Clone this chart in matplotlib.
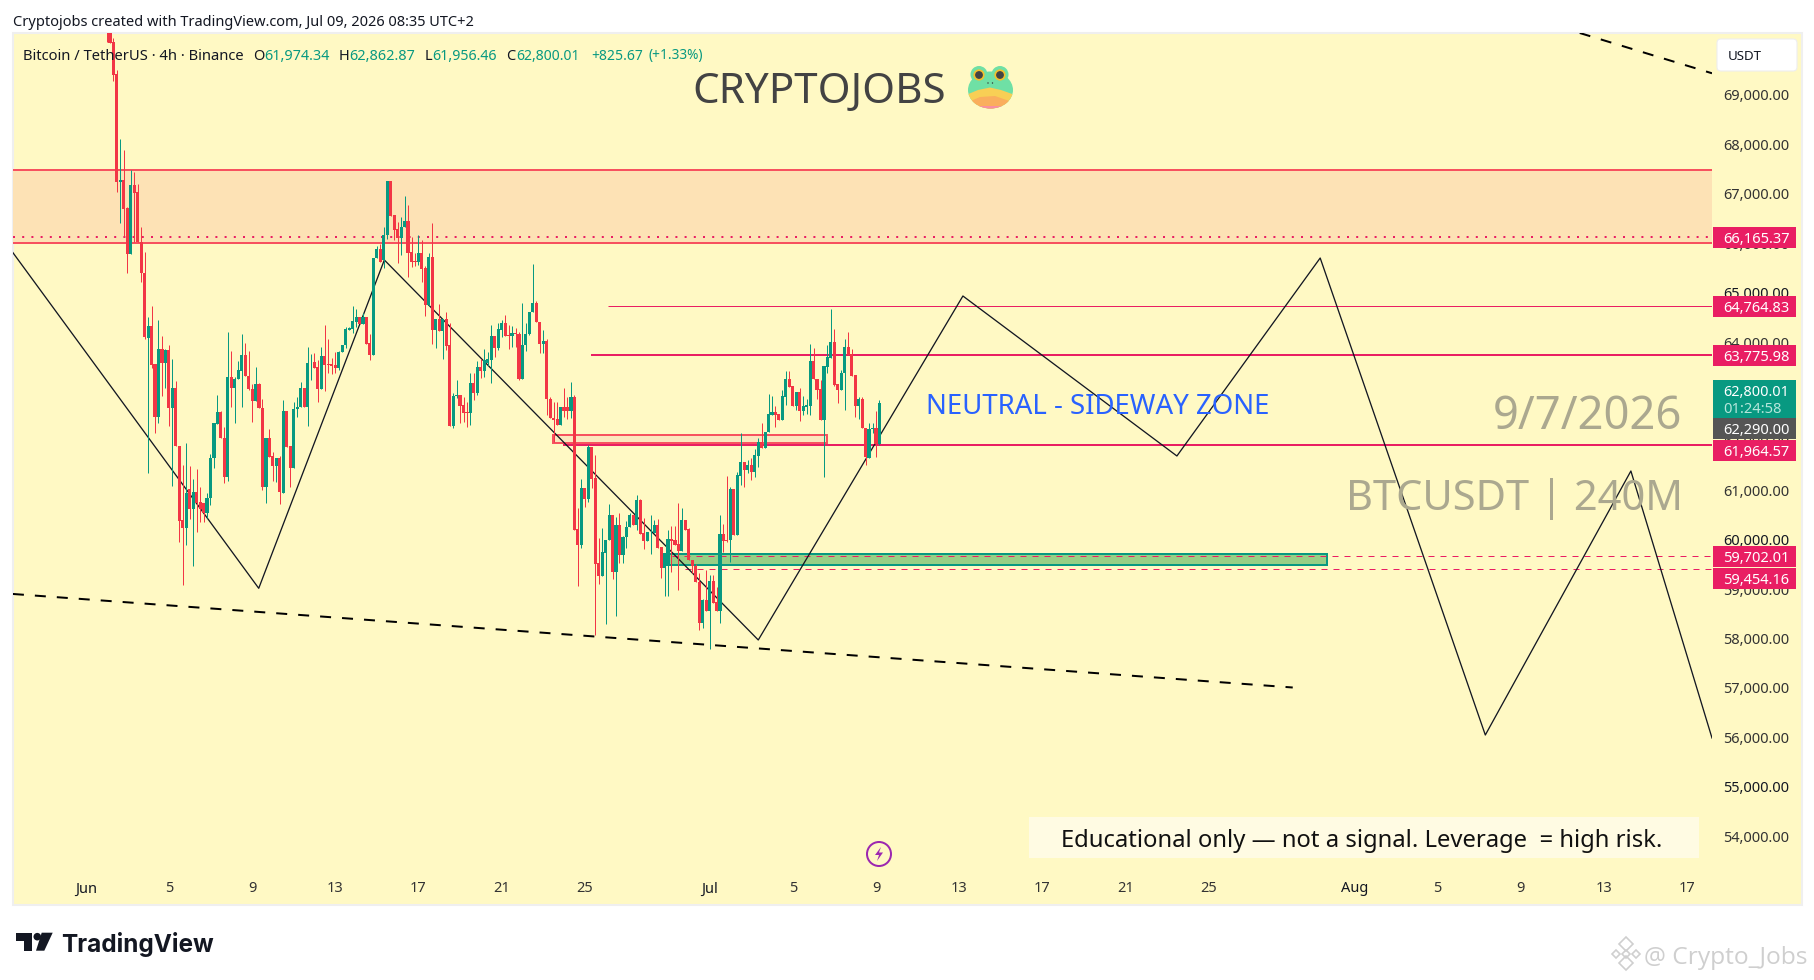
import matplotlib
matplotlib.use("Agg")
import matplotlib.pyplot as plt
from matplotlib.patches import Rectangle, Circle, Ellipse, Polygon, FancyBboxPatch

plt.rcParams['font.family'] = ['Noto Sans', 'DejaVu Sans']

# ---------- data ----------
first_candle = 6          # index in 4h candles counted from Jun 1
candles_per_day = 6
open_px = [
 70800,70500,70120,69465,67280,67320,66746,65822,67218,67083,
 66071,65444,64127,64363,63594,62528,63898,63621,63878,62710,
 63101,61941,60435,60280,61056,60671,60995,60806,60786,60584,
 60874,61684,62379,62622,62089,61313,63324,63115,63284,63459,
 63777,63358,63081,62852,63183,62696,61110,62096,61731,61535,
 61684,60989,62642,61934,61495,62676,62717,63101,62730,63608,
 63628,63540,63088,63756,63594,63588,63567,63506,63830,63979,
 64283,64296,64451,64553,64404,64553,64013,63776,65734,65916,
 65700,66206,67300,66611,66328,66153,66362,66490,65856,65680,
 65667,65843,65532,64790,65762,64284,64507,64270,64507,63980,
 62348,62948,62968,62766,62624,62611,63204,63016,63528,63461,
 63622,63677,64163,63913,64284,64433,64183,64169,64223,64203,
 63292,63974,64196,64642,64824,64453,63999,64061,62881,62496,
 62476,62361,62732,62725,62651,62921,60256,59932,61086,60863,
 61922,61281,59561,59305,59777,60033,60539,59392,60337,59736,
 60087,60290,60539,60337,60843,60168,60020,60195,60168,60337,
 59892,59473,59527,60047,60033,59952,59811,60438,60249,59628,
 59514,59190,58360,58819,58596,59203,58785,58603,60155,60034,
 60034,61066,60135,61336,61606,61451,61552,61417,61741,62024,
 61903,62213,62571,62625,62584,62463,62935,63293,63151,62746,
 63036,62645,62733,62746,63657,63286,63083,62463,63542,63711,
 64042,63185,63070,63407,63933,63799,63373,62753,62888,62294,
 61700,62274,62301,61974]
high_px = [
 71000,70800,70200,69546,68143,67927,66780,67522,67488,67239,
 66361,65869,64553,64769,63600,64485,64161,63898,63979,63695,
 63250,61941,61549,61988,61536,61258,61461,61110,60786,60989,
 61772,62406,62966,62642,62325,64235,63857,63337,63655,64195,
 64026,63857,63189,63527,63203,62885,62096,62271,61819,61684,
 61731,62865,62642,61934,62831,62919,63236,63101,63945,63797,
 63810,63675,63945,64384,64094,63709,63844,63864,63979,64350,
 64350,64769,64700,64553,64620,64553,64195,65747,65983,66024,
 66375,67300,67300,66611,66477,66578,66996,66814,66173,65836,
 66207,66105,65580,65849,66443,64507,64804,64507,64642,64419,
 63002,63272,62968,62921,62833,63407,63407,63657,63690,63900,
 63845,64385,64163,64419,64487,64588,64385,64365,64318,64250,
 64824,64419,64655,65620,64871,64453,64284,64095,62921,62834,
 62834,62732,63103,62921,63225,62970,60674,61268,61086,61956,
 61922,61754,60067,60269,60033,60762,60539,60505,60573,60114,
 60418,60573,60539,60944,60857,60472,60195,60539,60438,60452,
 59892,59750,60236,60317,60317,60775,60674,60438,60269,59628,
 59547,59358,58832,59426,59325,59325,59089,60540,60351,61329,
 61113,61066,61417,62193,61606,61653,61687,61869,62092,62395,
 62213,62989,62949,62746,62584,63070,63454,63454,63151,63036,
 63104,62949,62881,63994,63913,63286,63272,63549,63981,64710,
 64298,63185,63475,64095,64237,63893,63373,62922,62935,62294,
 62395,62395,62645,62863]
low_px = [
 70120,70100,69330,67083,66443,66186,65430,65822,66070,66071,
 65262,64100,61393,63506,62204,62406,62946,63115,62339,61124,
 61941,59996,59124,59929,60449,59511,60199,60402,60402,60469,
 60739,61495,62379,62089,61191,61232,62730,62406,63284,62730,
 63358,63068,62426,62845,62696,61043,60786,61718,61225,61212,
 60759,60989,61920,61110,61495,62528,62717,62730,62339,63270,
 63520,62831,63088,63047,63405,63392,63405,63473,63830,63912,
 64283,64215,64350,64404,64404,63999,63675,63776,65734,65666,
 65531,66120,66598,66100,65634,65802,66362,65364,65566,65579,
 65600,65262,64574,64770,64001,63926,64270,63697,63879,62348,
 62294,62900,62395,62415,62327,62361,62867,62968,63306,63340,
 63560,63205,63745,63879,64150,64169,63892,63947,63933,63272,
 63292,63866,64182,64642,64446,63812,63825,62564,62496,62024,
 62361,62361,62530,62490,62495,60236,59109,59865,60695,60809,
 61079,58110,59143,59305,58333,60033,59244,58495,59561,59561,
 59865,60290,60337,60236,60155,59851,60020,59750,60168,59878,
 59271,58907,58907,59392,59932,59021,59811,60236,59628,59359,
 59190,58212,58259,58596,57820,58765,58603,58347,59798,60000,
 59595,60135,60135,61147,61113,61383,61248,61316,61518,61903,
 61903,62213,62571,62328,62463,62463,62766,63124,62746,62665,
 62442,62564,62584,62564,63286,62888,62463,61316,63407,63711,
 63151,62814,63070,62665,63778,63353,62530,62476,62294,61552,
 61700,62200,61720,61956]
close_px = [
 70400,70100,69445,67286,67310,66733,65822,67218,67063,66071,
 65444,64135,64363,63574,62528,63898,63621,63878,62710,63101,
 61941,60422,60280,60975,60671,60995,60786,60671,60584,60874,
 61684,62406,62622,62089,61313,63324,63115,63284,63473,63777,
 63358,63081,62852,63183,62696,61110,62096,61718,61535,61684,
 61009,62642,61920,61495,62676,62717,63101,62730,63608,63621,
 63520,63088,63756,63581,63574,63560,63520,63830,63979,64296,
 64316,64465,64553,64404,64553,63999,63776,65747,65916,65666,
 66206,67300,66598,66308,66153,66362,66490,65849,65667,65667,
 65843,65519,64790,65762,64284,64507,64270,64507,63960,62348,
 62948,62968,62746,62597,62611,63204,63016,63528,63461,63677,
 63690,64163,63913,64304,64433,64169,64169,64223,64203,63292,
 63974,64196,64642,64824,64446,63999,64061,62881,62496,62470,
 62361,62732,62651,62651,62921,60236,59932,61086,60863,61922,
 61268,59554,59305,59784,60033,60539,59392,60337,59736,60087,
 60303,60539,60337,60843,60155,60020,60195,60202,60337,59878,
 59473,59750,60047,60013,59932,59811,60438,60236,59628,59514,
 59190,58360,58819,58596,59203,58765,58603,60155,60020,60020,
 61066,60135,61349,61606,61451,61552,61417,61754,62024,61903,
 62213,62577,62625,62571,62463,62948,63293,63124,62746,63036,
 62645,62746,62766,63657,63286,63070,62463,63549,63731,64042,
 63171,63070,63407,63933,63778,63353,62753,62881,62294,61720,
 62281,62301,61970,62800]

# projected path (days since Jun 1, price)
path_days   = [-3.5, 8.32, 14.36, 32.34, 42.18, 52.47, 59.36, 67.3, 74.3, 78.2]
path_prices = [65849, 59056, 65701, 58010, 64972, 61734, 65741, 56087, 61430, 56026]
lower_trend_days   = [-3.5, 58.04]
lower_trend_prices = [58941, 57048]
upper_trend_days   = [71.84, 78.2]
upper_trend_prices = [70295, 69480]

zone_low, zone_high = 66045, 67530
zone_dotted = 66165.37
level_prices = [64764.83, 63775.98, 61964.57]
level_starts = [25.12, 24.3, 22.95]
level_widths = [1.0, 2.0, 2.0]
dash_prices = [59702.01, 59454.16]
dash_starts = [27.6, 28.82]
red_box = (22.47, 35.65, 62003, 62159)
green_box = (27.8, 59.69, 59534, 59744)

price_ticks = list(range(54000, 70000, 1000))
bold_prices = [55000, 60000, 65000]
date_ticks = [0, 4, 8, 12, 16, 20, 24, 30, 34, 38, 42, 46, 50, 54, 61, 65, 69, 73, 77]
date_labels = ['Jun', '5', '9', '13', '17', '21', '25', 'Jul', '5', '9', '13', '17', '21', '25',
               'Aug', '5', '9', '13', '17']

# price labels (text, top px, bottom px, colour)
price_tags = [
    ('66,165.37', 227, 247.7, '#E91E63'),
    ('64,764.83', 296, 316.7, '#E91E63'),
    ('63,775.98', 345, 366, '#E91E63'),
    ('62,290.00', 417.7, 439.3, '#555555'),
    ('61,964.57', 440, 460.7, '#E91E63'),
    ('59,702.01', 546, 567.3, '#E91E63'),
    ('59,454.16', 568.3, 589, '#E91E63'),
]

GREEN, RED, PINK, BG = '#089981', '#F23645', '#E91E63', '#FFF9C4'
INK = '#131722'
PX = 0.72  # points per pixel at dpi 100

# ---------- figure ----------
fig = plt.figure(figsize=(18.15, 9.8), dpi=100, facecolor='white')

bg = fig.add_axes([0, 0, 1, 1], zorder=0)
bg.set_xlim(0, 1815); bg.set_ylim(980, 0); bg.axis('off')
bg.add_patch(Rectangle((13, 33), 1789, 872, facecolor=BG, edgecolor='#EFEFEF', lw=1.5))

ax = fig.add_axes([13/1815, 1-905/980, 1699/1815, 872/980], zorder=1, facecolor='none')
ax.set_xlim(-3.496, 78.2)
ax.set_ylim(52646, 70295)
for s in ax.spines.values():
    s.set_visible(False)

# zone and levels
ax.axhspan(zone_low, zone_high, color='#FDE2B5', lw=0, zorder=1)
ax.axhline(zone_low, color='#F7525F', lw=2*PX, zorder=2)
ax.axhline(zone_high, color='#F7525F', lw=2*PX, zorder=2)
ax.axhline(zone_dotted, color=PINK, lw=2*PX, ls=(0, (1, 3.6)), zorder=2)
for p, st, w in zip(level_prices, level_starts, level_widths):
    ax.plot([st, 78.2], [p, p], color=PINK, lw=w*PX, zorder=2, solid_capstyle='butt')

x0, x1, y0, y1 = red_box
ax.add_patch(Rectangle((x0, y0), x1-x0, y1-y0, facecolor='#FBE7BE', edgecolor='#F7525F', lw=2*PX, zorder=2))
x0, x1, y0, y1 = green_box
ax.add_patch(Rectangle((x0, y0), x1-x0, y1-y0, facecolor='#98CF85', edgecolor=GREEN, lw=2*PX, zorder=2))
for p, st in zip(dash_prices, dash_starts):
    ax.plot([st, 78.2], [p, p], color=PINK, lw=1*PX, ls=(0, (6, 6)), zorder=3)

# drawings
ax.plot(path_days, path_prices, color=INK, lw=1.3*PX, zorder=3)
ax.plot(lower_trend_days, lower_trend_prices, color='black', lw=2*PX, ls=(0, (5.5, 5.5)), zorder=3)
ax.plot(upper_trend_days, upper_trend_prices, color='black', lw=2*PX, ls=(0, (5.5, 5.5)), zorder=3)

# candles
days = [(first_candle + k) / candles_per_day for k in range(len(open_px))]
colors = [GREEN if c >= o else RED for o, c in zip(open_px, close_px)]
ax.vlines(days, low_px, high_px, colors=colors, lw=1*PX, zorder=4)
ax.bar(days, [abs(c-o) for o, c in zip(open_px, close_px)],
       bottom=[min(o, c) for o, c in zip(open_px, close_px)],
       width=0.15, color=colors, lw=0, zorder=5)

# axes ticks
ax.yaxis.tick_right()
ax.set_yticks(price_ticks)
ax.set_yticklabels([f'{p:,.2f}' for p in price_ticks], fontsize=10.5, color='#333333')
for lab, p in zip(ax.get_yticklabels(), price_ticks):
    lab.set_verticalalignment('center')
    if p in bold_prices:
        lab.set_fontweight('bold'); lab.set_color(INK)
ax.tick_params(axis='y', length=0, pad=8)
ax.set_xticks(date_ticks)
ax.set_xticklabels(date_labels, fontsize=10.5, color='#333333')
for lab, t in zip(ax.get_xticklabels(), date_labels):
    if not t.isdigit():
        lab.set_fontweight('bold'); lab.set_color(INK)
ax.tick_params(axis='x', length=0, pad=-17)

# ---------- overlay ----------
ov = fig.add_axes([0, 0, 1, 1], zorder=2, facecolor='none')
ov.set_xlim(0, 1815); ov.set_ylim(980, 0); ov.axis('off')
renderer = fig.canvas.get_renderer()


def fit(x0, x1, y, s, color=INK, start=12, **kw):
    """left-aligned text at px x0, sized so that it ends at px x1"""
    t = ov.text(x0, y, s, color=color, fontsize=start, ha='left', va='center_baseline', **kw)
    w = t.get_window_extent(renderer).width
    t.set_fontsize(start * (x1 - x0) / w)
    return t


fit(13, 474, 20, 'Cryptojobs created with TradingView.com, Jul 09, 2026 08:35 UTC+2')
fit(23, 244, 54, 'Bitcoin / TetherUS · 4h · Binance')
for xa, xb, s, c in [(264, 330, '61,974.34', GREEN), (349, 415, '62,862.87', GREEN),
                     (432, 497, '61,956.46', GREEN), (516, 580, '62,800.01', GREEN),
                     (591, 643, '+825.67', GREEN), (649, 704, '(+1.33%)', GREEN)]:
    fit(xa, xb, 54, s, c)
for xa, s in [(253.5, 'O'), (339, 'H'), (424.5, 'L'), (506.5, 'C')]:
    ov.text(xa, 54, s, color=INK, fontsize=10.5, ha='left', va='center_baseline')

fit(692, 945, 87, 'CRYPTOJOBS', '#434343')
fit(926, 1270, 403, 'NEUTRAL - SIDEWAY ZONE', '#2962FF')
fit(1493, 1683, 411, '9/7/2026', '#ABA88F')
fit(1346, 1683, 494, 'BTCUSDT | 240M', '#ABA88F')

ov.add_patch(Rectangle((1029, 817), 670, 41, facecolor='#FFFBE3', edgecolor='none'))
fit(1061, 1662, 838, 'Educational only — not a signal. Leverage  = high risk.', '#111111')

# frog
head = Ellipse((990.5, 90), 45, 37, facecolor='#6FE0A5', edgecolor='none')
ov.add_patch(head)
for cx in (979, 1000):
    ov.add_patch(Circle((cx, 74.5), 8.5, facecolor='#6FE0A5', edgecolor='none'))
    ov.add_patch(Circle((cx, 75), 5.6, facecolor='#F5C02C', edgecolor='none'))
    ov.add_patch(Circle((cx, 75), 3.9, facecolor='#444444', edgecolor='none'))
for cx in (988, 992.5):
    ov.add_patch(Circle((cx, 83), 0.7, facecolor='#333333', edgecolor='none'))
belly = Polygon([(966, 95), (978, 90), (990, 87.5), (1001, 90), (1015, 95), (1015, 112), (966, 112)],
                facecolor='#F8CF55', edgecolor='none')
ov.add_patch(belly); belly.set_clip_path(head)
lower = Polygon([(966, 103), (980, 97), (995, 96), (1015, 103), (1015, 112), (966, 112)],
                facecolor='#FAAE5D', edgecolor='none')
ov.add_patch(lower); lower.set_clip_path(head)
chin = Rectangle((966, 106), 50, 6, facecolor='#F98FA0', edgecolor='none')
ov.add_patch(chin); chin.set_clip_path(head)

# lightning icon
ov.add_patch(Circle((879, 854), 12, facecolor='none', edgecolor='#9C27B0', lw=2*PX))
ov.add_patch(Polygon([(881, 847), (875, 855), (879, 855), (877, 861), (883, 852.5), (879, 852.5)],
                     facecolor='#9C27B0', edgecolor='none'))

# price axis widgets
ov.add_patch(FancyBboxPatch((1719, 41), 76, 28, boxstyle='round,pad=2,rounding_size=4',
                            facecolor='white', edgecolor='#EEEEEE', lw=0.8))
fit(1728, 1762, 55, 'USDT', INK)
for s, top, bot, c in price_tags:
    ov.add_patch(Rectangle((1713, top), 82.7, bot-top, facecolor=c, edgecolor='none'))
    fit(1723, 1790, (top+bot)/2, s, 'white')
ov.add_patch(Rectangle((1713, 380), 82.7, 37.7, facecolor=GREEN, edgecolor='none'))
fit(1723, 1789, 390, '62,800.01', 'white')
fit(1723, 1782, 407, '01:24:58', '#B5E6DB')

# TradingView logo
ov.add_patch(Polygon([(15.7, 932.7), (31.7, 932.7), (31.7, 950.7), (24, 950.7), (24, 940.7), (15.7, 940.7)],
                     facecolor=INK, edgecolor='none'))
ov.add_patch(Circle((37.3, 936.7), 3.8, facecolor=INK, edgecolor='none'))
ov.add_patch(Polygon([(41.7, 932.7), (52.7, 932.7), (44.3, 950.7), (36, 950.7)], facecolor=INK, edgecolor='none'))
fit(61, 213, 942, 'TradingView', INK, family=['Inter', 'Noto Sans'], fontweight='bold')

# watermark
wm = '#CFCFCF'
for (cx, cy, r) in [(1626, 944, 7), (1626, 963, 7), (1616, 954, 4), (1636, 954, 4), (1626, 954, 4)]:
    ov.add_patch(Polygon([(cx-r, cy), (cx, cy-r), (cx+r, cy), (cx, cy+r)],
                         facecolor='none', edgecolor=wm, lw=1.2))
fit(1644, 1806, 955, '@ Crypto_Jobs', wm, family=['Open Sans', 'Noto Sans'])

fig.savefig('out.png', dpi=100, facecolor='white')
